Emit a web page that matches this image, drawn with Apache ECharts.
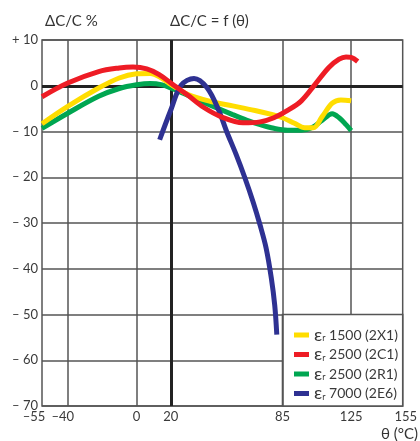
<!DOCTYPE html>
<html>
<head>
<meta charset="utf-8">
<script src="https://cdn.jsdelivr.net/npm/echarts@6/dist/echarts.min.js"></script>
<style>
html,body{margin:0;padding:0;background:#fff;}
#c{width:420px;height:441px;}
</style>
</head>
<body>
<div id="c"></div>
<script>
// ---- data ----
const xTicks = [-55, -40, 0, 20, 85, 125, 155];
const xTickLabels = ['–55', '–40', '0', '20', '85', '125', '155'];
const yTicks = [-70, -60, -50, -40, -30, -20, -10, 0, 10];
const yTickLabels = ['– 70', '– 60', '– 50', '– 40', '– 30', '– 20', '– 10', '0', '+ 10'];
const xGridThin = [-40, 0, 85];
const xGridThick = [20];
const yGridThick = [0];

const seriesNames = ['εr 1500 (2X1)', 'εr 2500 (2C1)', 'εr 2500 (2R1)', 'εr 7000 (2E6)'];
const seriesColors = ['#FFDD00', '#EE1C25', '#00A651', '#2E3192'];

const theta2X1 = [-55, -40, -22, -10, 0, 8, 15, 20, 30, 44, 56, 69, 78, 85, 92, 98, 103, 108, 114, 119, 125];
const dc2X1 = [-8.3, -4.5, -0.5, 1.7, 2.6, 2.7, 1.6, 0.3, -1.9, -3.5, -4.4, -5.4, -6.2, -7.0, -8.2, -9.2, -9.2, -6.8, -3.8, -3.1, -3.3];

const theta2C1 = [-55, -40, -22, -10, -2, 6, 13, 20, 30, 39, 50, 62, 72, 80, 88, 96, 104, 112, 118, 122, 125, 128.8];
const dc2C1 = [-2.4, 0.6, 3.1, 3.9, 4.1, 3.7, 2.5, 0.6, -2.1, -4.7, -6.9, -8.1, -7.9, -7.0, -5.4, -3.3, 0.3, 4.0, 5.8, 6.3, 6.2, 5.3];

const theta2R1 = [-55, -40, -22, -10, 0, 8, 15, 20, 31, 44, 56, 64, 72, 80, 88, 96, 102, 108, 114, 118, 122, 125];
const dc2R1 = [-9.3, -6.0, -2.3, -0.6, 0.2, 0.5, 0.2, -0.5, -2.3, -4.4, -6.3, -7.5, -8.5, -9.3, -9.7, -9.7, -9.2, -7.6, -6.1, -7.0, -8.5, -9.8];

const theta2E6 = [13.5, 20, 26, 33.5, 41, 47.8, 52.5, 58, 63, 68, 72, 75.5, 78.5, 80.5, 81.7];
const dc2E6 = [-11.8, -5.3, 0.1, 1.6, -0.4, -5.3, -10, -15, -20, -25.5, -30.5, -35.5, -42, -48, -54.4];

const legendBox = {x0: 85, x1: 155, y0: -50, y1: -70};

// ---- chart ----
const FONT = 'Lato, "Open Sans", sans-serif';
const TXT = '#3a3a3a';
const GRID = '#555';
const zip = (a, b) => a.map((v, i) => [v, b[i]]);

const chart = echarts.init(document.getElementById('c'), null, {renderer: 'canvas'});

const lineSeries = (idx, xs, ys, z) => ({
  name: seriesNames[idx],
  type: 'line',
  data: zip(xs, ys),
  smooth: 0.35,
  showSymbol: false,
  symbol: 'none',
  color: seriesColors[idx],
  lineStyle: {width: 5, color: seriesColors[idx], cap: 'butt'},
  z: z,
  silent: true
});

const green = lineSeries(2, theta2R1, dc2R1, 3);
green.markLine = {
  z: 1,
  silent: true,
  symbol: 'none',
  label: {show: false},
  lineStyle: {type: 'solid', color: GRID, width: 1.5},
  data: [
    ...xGridThin.map(v => ({xAxis: v})),
    [{coord: [125, 10]}, {coord: [125, legendBox.y0]}],
    ...xGridThick.map(v => ({xAxis: v, lineStyle: {type: 'solid', color: '#222', width: 3}})),
    ...yGridThick.map(v => ({yAxis: v, lineStyle: {type: 'solid', color: '#222', width: 3}}))
  ]
};
green.markArea = {
  z: 1,
  silent: true,
  itemStyle: {color: '#fff', borderColor: GRID, borderWidth: 1.5},
  data: [[{xAxis: legendBox.x0, yAxis: legendBox.y0}, {xAxis: legendBox.x1, yAxis: legendBox.y1}]]
};

const option = {
  animation: false,
  textStyle: {fontFamily: FONT},
  title: [
    {text: 'ΔC/C %', left: 45, top: 14, padding: 0,
     textStyle: {fontFamily: FONT, fontSize: 15, fontWeight: 'normal', color: '#333'}},
    {text: 'ΔC/C = f (θ)', left: 170, top: 14, padding: 0,
     textStyle: {fontFamily: FONT, fontSize: 15, fontWeight: 'normal', color: '#333'}}
  ],
  graphic: [
    {type: 'text', right: 2, top: 427,
     style: {text: 'θ (°C)', font: '15px ' + FONT, fill: '#333'}}
  ],
  grid: {left: 42, right: 10, top: 40, bottom: 35, show: true, borderColor: GRID, borderWidth: 1.5, backgroundColor: 'transparent'},
  xAxis: {
    type: 'value', min: -55, max: 155, interval: 5,
    axisLine: {show: false}, axisTick: {show: false}, splitLine: {show: false},
    axisLabel: {
      margin: 4, color: TXT, fontSize: 13, fontFamily: FONT,
      formatter: v => {
        const i = xTicks.indexOf(v);
        if (i < 0) return '';
        if (v === -55) return '{a|' + xTickLabels[i] + '}';
        if (v === -40) return '{b|' + xTickLabels[i] + '}';
        if (v === 155) return '{c|' + xTickLabels[i] + '}';
        return xTickLabels[i];
      },
      rich: {
        a: {fontSize: 13, color: TXT, fontFamily: FONT, padding: [0, 16, 0, 0]},
        b: {fontSize: 13, color: TXT, fontFamily: FONT, padding: [0, 10, 0, 0]},
        c: {fontSize: 13, color: TXT, fontFamily: FONT, padding: [0, 0, 0, 6]}
      }
    }
  },
  yAxis: {
    type: 'value', min: -70, max: 10, interval: 10,
    axisLine: {show: false}, axisTick: {show: false},
    splitLine: {show: true, lineStyle: {color: GRID, width: 1.5}},
    axisLabel: {
      margin: 4, color: TXT, fontSize: 13, fontFamily: FONT,
      formatter: v => {
        const i = yTicks.indexOf(v);
        return i < 0 ? '' : yTickLabels[i];
      }
    }
  },
  legend: {
    data: seriesNames,
    orient: 'vertical', left: 294, top: 326, padding: 0,
    itemWidth: 15, itemHeight: 5, itemGap: 1.5, icon: 'rect',
    selectedMode: false,
    formatter: n => n.replace('εr', '{e|ε}{s|r}'),
    textStyle: {
      color: TXT, fontSize: 14, fontFamily: FONT, lineHeight: 16,
      rich: {
        e: {fontSize: 18, color: TXT, fontFamily: FONT, lineHeight: 16},
        s: {fontSize: 9, color: TXT, fontFamily: FONT, lineHeight: 16, verticalAlign: 'bottom'}
      }
    }
  },
  series: [
    lineSeries(0, theta2X1, dc2X1, 4),
    lineSeries(1, theta2C1, dc2C1, 6),
    green,
    lineSeries(3, theta2E6, dc2E6, 5)
  ]
};
chart.setOption(option);
</script>
</body>
</html>
